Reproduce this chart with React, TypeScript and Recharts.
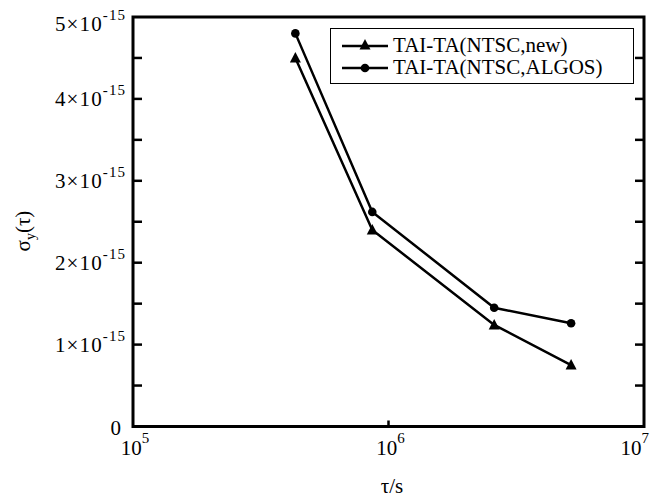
import React from 'react';
import { LineChart, Line, XAxis, YAxis, ReferenceArea } from 'recharts';

// averaging time tau in seconds (5, 10, 30, 60 days)
const taus = [432000, 864000, 2592000, 5184000];
const sigmaNew = [4.5e-15, 2.4e-15, 1.24e-15, 0.75e-15];
const sigmaAlgos = [4.8e-15, 2.62e-15, 1.45e-15, 1.26e-15];

const xTicks = [1e5, 1e6, 1e7];
const yTicks = [0, 0.5e-15, 1e-15, 1.5e-15, 2e-15, 2.5e-15, 3e-15, 3.5e-15, 4e-15, 4.5e-15, 5e-15];

const SERIES = [
  { key: 'newAlg', name: 'TAI-TA(NTSC,new)', shape: 'triangle' },
  { key: 'algos', name: 'TAI-TA(NTSC,ALGOS)', shape: 'circle' },
];

const data = taus.map((t, i) => ({ tau: t, newAlg: sigmaNew[i], algos: sigmaAlgos[i] }));

const FONT = 'Liberation Serif, Times New Roman, Times, serif';

const Marker = ({ cx, cy, shape }: any) => {
  if (cx == null || cy == null) return null;
  if (shape === 'triangle') {
    return <path d={`M${cx},${cy - 6} L${cx + 5.5},${cy + 4.5} L${cx - 5.5},${cy + 4.5} Z`} fill="#000" />;
  }
  return <circle cx={cx} cy={cy} r={4.3} fill="#000" />;
};

const XTick = ({ x, y, payload }: any) => {
  const exp = Math.round(Math.log10(payload.value));
  // last label sits flush with the right edge, like the original
  const last = exp === 7;
  return (
    <g>
      {exp === 6 && <line x1={x} x2={x} y1={y} y2={y - 6} stroke="#000" strokeWidth={2.5} />}
      <text
        x={last ? x + 5 : x + 2}
        y={y + 28.5}
        textAnchor={last ? 'end' : 'middle'}
        fontFamily={FONT}
        fontSize={21}
        fill="#000"
      >
        10<tspan dy={-12} fontSize={15}>{exp}</tspan>
      </text>
    </g>
  );
};

const YTickLeft = ({ x, y, payload }: any) => {
  const m = Math.round((payload.value / 1e-15) * 2) / 2;
  const isMajor = Number.isInteger(m);
  const off = m === 5 ? 7 : 0;
  return (
    <g>
      {m > 0 && m < 5 && <line x1={x} x2={x + 9} y1={y} y2={y} stroke="#000" strokeWidth={2.5} />}
      {isMajor && (
        m === 0 ? (
          <text x={x - 12} y={y + 8} textAnchor="end" fontFamily={FONT} fontSize={21} fill="#000">0</text>
        ) : (
          <text
            x={x - 78}
            y={y + 7 + off}
            textLength={70}
            lengthAdjust="spacing"
            fontFamily={FONT}
            fontSize={21}
            fill="#000"
          >
            {m}
            <tspan>×</tspan>
            <tspan>10</tspan>
            <tspan dy={-11} fontSize={15}>-15</tspan>
          </text>
        )
      )}
    </g>
  );
};

const YTickRight = ({ x, y, payload }: any) => {
  const m = Math.round((payload.value / 1e-15) * 2) / 2;
  if (m <= 0 || m >= 5) return <g />;
  return <line x1={x} x2={x - 9} y1={y} y2={y} stroke="#000" strokeWidth={2.5} />;
};

const LegendBox = () => (
  <div
    style={{
      position: 'absolute',
      left: 330,
      top: 28,
      border: '1.5px solid #000',
      background: '#fff',
      width: 304,
      height: 56,
      boxSizing: 'border-box',
      paddingTop: 5,
    }}
  >
    {SERIES.map((s) => (
      <div key={s.key} style={{ display: 'flex', alignItems: 'center', height: 22 }}>
        <svg width={62} height={22} style={{ flex: 'none' }}>
          <line x1={11} x2={57} y1={12} y2={12} stroke="#000" strokeWidth={2.5} />
          <Marker cx={34} cy={s.shape === 'triangle' ? 11 : 12} shape={s.shape} />
        </svg>
        <span style={{ fontFamily: FONT, fontSize: 21, color: '#000', lineHeight: '22px' }}>{s.name}</span>
      </div>
    ))}
  </div>
);

export default function App() {
  return (
    <div style={{ position: 'absolute', left: 0, top: 0, width: 656, height: 498, background: '#fff' }}>
      <LineChart width={656} height={498} data={data} margin={{ top: 17, right: 0, left: 0, bottom: 41.5 }}>
        <XAxis
          dataKey="tau"
          type="number"
          scale="log"
          domain={[1e5, 1e7]}
          ticks={xTicks}
          allowDataOverflow
          height={30}
          tickSize={0}
          tickMargin={0}
          tickLine={false}
          axisLine={false}
          tick={<XTick />}
          interval={0}
        />
        <YAxis
          type="number"
          domain={[0, 5e-15]}
          ticks={yTicks}
          width={133}
          tickSize={0}
          tickMargin={0}
          tickLine={false}
          axisLine={false}
          tick={<YTickLeft />}
          interval={0}
          allowDataOverflow
        />
        <YAxis
          yAxisId="r"
          orientation="right"
          type="number"
          domain={[0, 5e-15]}
          ticks={yTicks}
          width={12}
          tickSize={0}
          tickMargin={0}
          tickLine={false}
          axisLine={false}
          tick={<YTickRight />}
          interval={0}
          allowDataOverflow
        />
        <ReferenceArea x1={1e5} x2={1e7} y1={0} y2={5e-15} fill="none" stroke="#000" strokeWidth={3} ifOverflow="visible" />
        {SERIES.map((s) => (
          <Line
            key={s.key}
            dataKey={s.key}
            name={s.name}
            stroke="#000"
            strokeWidth={2.5}
            dot={(p: any) => <Marker key={`${s.key}-${p.index}`} cx={p.cx} cy={p.cy} shape={s.shape} />}
            activeDot={false}
            isAnimationActive={false}
          />
        ))}
        <text x={392} y={493} textAnchor="middle" fontFamily={FONT} fontSize={21} fill="#000">τ/s</text>
        <text
          x={30}
          y={231}
          textAnchor="middle"
          fontFamily={FONT}
          fontSize={21}
          fill="#000"
          transform="rotate(-90 30 231)"
        >
          σ<tspan dy={5} fontSize={14}>y</tspan><tspan dy={-5}>(τ)</tspan>
        </text>
      </LineChart>
      <LegendBox />
    </div>
  );
}
